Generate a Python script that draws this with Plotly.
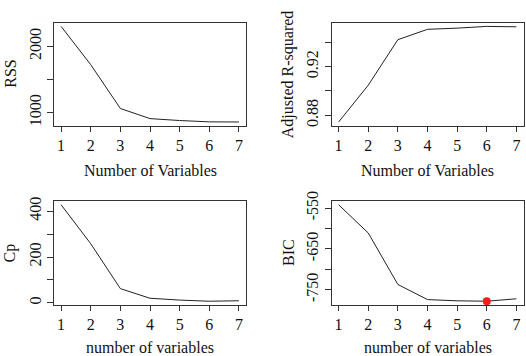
import plotly.graph_objects as go

n_vars = [1, 2, 3, 4, 5, 6, 7]
rss = [2304, 1725, 1062, 909, 880, 860, 858]
adjr2 = [0.8745, 0.9047, 0.9421, 0.9506, 0.9516, 0.9530, 0.9527]
cp = [428, 258, 62, 20, 12, 7, 9]
bic = [-542, -611, -737, -774, -777, -778, -772]

rss_ticks = [1000, 1500, 2000]
rss_labels = ["1000", "", "2000"]
adjr2_ticks = [0.88, 0.90, 0.92, 0.94]
adjr2_labels = ["0.88", "", "0.92", ""]
cp_ticks = [0, 100, 200, 300, 400]
cp_labels = ["0", "", "200", "", "400"]
bic_ticks = [-550, -600, -650, -700, -750]
bic_labels = ["-550", "", "-650", "", "-750"]
x_ticks = n_vars

best_bic = min(range(len(bic)), key=lambda i: bic[i])

W, H = 526, 356
FONT = "Liberation Serif, Times New Roman, serif"
TXT = "#111111"
LINE = "#333333"

panels = [
    (rss, rss_ticks, rss_labels, "RSS", "Number of Variables", (54, 246), (13, 119.5), -45),
    (adjr2, adjr2_ticks, adjr2_labels, "Adjusted R-squared", "Number of Variables", (331.5, 523.5), (13, 119.5), -45),
    (cp, cp_ticks, cp_labels, "Cp", "number of variables", (54, 246), (197, 304.5), -42.5),
    (bic, bic_ticks, bic_labels, "BIC", "number of variables", (331.5, 523.5), (197, 304.5), -42.5),
]


def r_range(vals):
    lo, hi = min(vals), max(vals)
    d = (hi - lo) * 0.04
    return [lo - d, hi + d]


fig = go.Figure()
layout = dict(
    width=W, height=H,
    margin=dict(l=0, r=0, t=0, b=0),
    paper_bgcolor="white", plot_bgcolor="white",
    showlegend=False,
    font=dict(family=FONT, size=16, color=TXT),
    annotations=[],
)

for i, (yv, yt, yl, ytitle, xtitle, (x0, x1), (yt0, yb0), tshift) in enumerate(panels):
    k = "" if i == 0 else str(i + 1)
    xa, ya = "x" + k, "y" + k
    fig.add_trace(go.Scatter(x=n_vars, y=yv, mode="lines",
                             line=dict(color="#222222", width=1),
                             xaxis=xa, yaxis=ya, hoverinfo="skip"))
    layout["xaxis" + k] = dict(
        domain=[x0 / W, x1 / W], anchor=ya, range=r_range(n_vars),
        tickvals=x_ticks, ticktext=[str(v) for v in x_ticks],
        ticks="outside", ticklen=5, tickwidth=1, tickcolor=LINE,
        showline=True, linecolor=LINE, linewidth=1, mirror=True,
        showgrid=False, zeroline=False,
        tickfont=dict(family=FONT, size=16, color=TXT),
    )
    layout["yaxis" + k] = dict(
        domain=[1 - yb0 / H, 1 - yt0 / H], anchor=xa, range=r_range(yv),
        tickvals=yt, ticktext=yl, tickangle=-90,
        ticks="outside", ticklen=6, tickwidth=1, tickcolor=LINE,
        showline=True, linecolor=LINE, linewidth=1, mirror=True,
        showgrid=False, zeroline=False,
        tickfont=dict(family=FONT, size=16, color=TXT),
    )
    layout["annotations"].append(dict(
        text=xtitle, xref=xa + " domain", yref=ya + " domain",
        x=0.5, y=0, xanchor="center", yanchor="middle", yshift=tshift,
        showarrow=False, font=dict(family=FONT, size=16, color=TXT)))
    layout["annotations"].append(dict(
        text=ytitle, xref=xa + " domain", yref=ya + " domain",
        x=0, y=0.5, xanchor="center", yanchor="middle", xshift=-43.5,
        textangle=-90, showarrow=False,
        font=dict(family=FONT, size=16, color=TXT)))

fig.add_trace(go.Scatter(x=[n_vars[best_bic]], y=[bic[best_bic]], mode="markers",
                         marker=dict(color="#ff1a1a", size=8, line=dict(width=0)),
                         xaxis="x4", yaxis="y4", hoverinfo="skip"))

fig.update_layout(**layout)
fig.write_html(
    "out.html",
    config=dict(displayModeBar=False),
    post_script="document.body.style.margin='0';document.body.style.padding='0';document.body.style.overflow='hidden';",
)
